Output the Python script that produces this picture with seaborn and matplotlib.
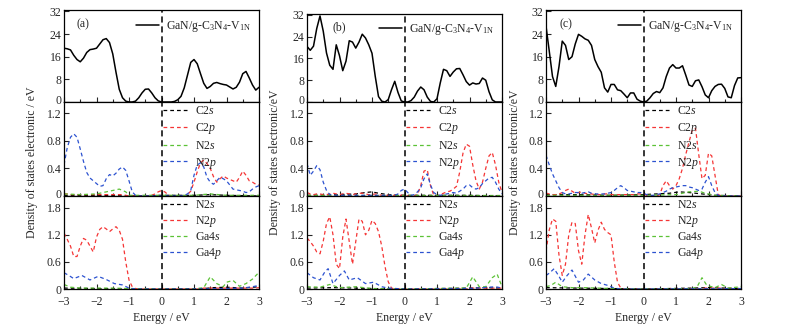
import numpy as np
import pandas as pd
import matplotlib
matplotlib.use("Agg")
import matplotlib.pyplot as plt
import matplotlib.transforms as mtrans
import seaborn as sns

sns.set_style('ticks')
plt.rcParams['font.family'] = ['Liberation Serif', 'DejaVu Serif']
plt.rcParams['mathtext.fontset'] = 'custom'
plt.rcParams['mathtext.rm'] = 'Liberation Serif'
plt.rcParams['mathtext.it'] = 'Liberation Serif:italic'
plt.rcParams['font.size'] = 8.5

# energy grid of the read-off values (eV)
energy = np.round(np.linspace(-3, 3, 61), 1)

# ---------------- (a) ----------------
tdos_a = [19, 18.8, 18.4, 16.5, 15, 14.2, 15.5, 17.5, 18.5, 18.7,
          19, 20.5, 22, 22.4, 21, 17, 10.5, 4.5, 1.5, 0.3,
          0, 0, 0.3, 1.5, 3.2, 4.5, 4.6, 3.2, 1.5, 0.4,
          0, 0, 0, 0, 0.2, 0.8, 2, 5, 9.5, 14,
          15, 13.5, 10, 6.6, 4.8, 5.5, 6.6, 6.9, 6.5, 6.2,
          6, 5.3, 4.6, 5.2, 7, 10, 10.8, 8.5, 6, 4.2, 5.2]
c2p_a = [0.03, 0.03, 0.02, 0.02, 0.02, 0.02, 0.02, 0.02, 0.02, 0.02,
         0.02, 0.02, 0.02, 0.02, 0.02, 0.02, 0.02, 0.02, 0.02, 0.01,
         0, 0, 0, 0, 0, 0, 0, 0.01, 0.03, 0.06,
         0.08, 0.06, 0.02, 0, 0, 0, 0, 0, 0.02, 0.07,
         0.2, 0.35, 0.48, 0.52, 0.47, 0.4, 0.28, 0.2, 0.25, 0.29,
         0.26, 0.24, 0.22, 0.2, 0.27, 0.36, 0.3, 0.22, 0.2, 0.17, 0.16]
n2p_a = [0.45, 0.7, 0.85, 0.9, 0.85, 0.68, 0.5, 0.34, 0.26, 0.22,
         0.18, 0.14, 0.15, 0.25, 0.31, 0.29, 0.33, 0.39, 0.42, 0.37,
         0.22, 0.06, 0.01, 0, 0, 0, 0, 0, 0, 0,
         0, 0, 0, 0, 0, 0, 0, 0.01, 0.03, 0.08,
         0.3, 0.45, 0.48, 0.42, 0.27, 0.2, 0.17, 0.22, 0.27, 0.25,
         0.22, 0.16, 0.1, 0.09, 0.08, 0.07, 0.05, 0.06, 0.1, 0.13, 0.15]
c2s_a_e = [-3, -2, -1, 0, 1, 1.5, 2, 3]
c2s_a = [0.01, 0.01, 0.0, 0.01, 0.01, 0.02, 0.01, 0.0]
n2s_a_e = [-3, -2.5, -2, -1.7, -1.5, -1.3, -1.1, -1.0, 0, 1, 1.5, 2, 3]
n2s_a = [0.03, 0.02, 0.03, 0.06, 0.08, 0.1, 0.06, 0.01, 0.01, 0.01, 0.03, 0.01, 0.01]

n2p_low_a = [1.24, 1.1, 0.95, 0.72, 0.72, 0.95, 1.12, 1.08, 0.95, 0.82,
             1.15, 1.32, 1.38, 1.33, 1.27, 1.33, 1.38, 1.3, 1.1, 0.6,
             0.2, 0.05, 0.01] + [0] * 20 + [0.02] * 17 + [0.03]
n2s_low_a_e = [-3, -2, -1, 0, 1.3, 1.6, 2.0, 2.5, 3]
n2s_low_a = [0.02, 0.01, 0, 0, 0.01, 0.03, 0.04, 0.02, 0.05]
ga4s_a_e = [-3, -2.8, -2.5, -2, -1.5, -1, 0, 1, 1.3, 1.5, 1.7, 1.9, 2.0, 2.2, 2.4, 2.6, 2.8, 3.0]
ga4s_a = [0.1, 0.04, 0.02, 0.02, 0.02, 0.01, 0, 0, 0.03, 0.27, 0.12, 0.05, 0.15, 0.19, 0.06, 0.12, 0.22, 0.37]
ga4p_a_e = [-3, -2.85, -2.7, -2.45, -2.2, -1.95, -1.7, -1.45, -1.2, -1.0, -0.8, 0, 1, 2, 2.5, 2.8, 3]
ga4p_a = [0.36, 0.3, 0.23, 0.3, 0.2, 0.28, 0.21, 0.12, 0.09, 0.02, 0, 0, 0, 0.01, 0.02, 0.05, 0.08]

# ---------------- (b) ----------------
tdos_b = [20.4, 19, 20.5, 27, 31.6, 26, 18, 13.5, 12, 21,
          17, 11.5, 15, 22.5, 22, 19.8, 22, 24.9, 23.5, 21,
          17.9, 9.4, 2, 0.3, 0, 0.9, 4.5, 7.6, 3.5, 0.4,
          0, 0, 0.5, 1.8, 4, 5.5, 4.5, 1.8, 0.2, 0,
          1.2, 7, 12, 11.5, 9.4, 11, 12.2, 12.3, 10, 7.5,
          6.2, 7, 6.6, 6.8, 8.8, 8, 3.8, 0.8, 0, 0, 0]
c2p_b = [0.05, 0.03, 0.02, 0.03, 0.03, 0.02, 0.02, 0.03, 0.04, 0.03,
         0.02, 0.03, 0.04, 0.03, 0.02, 0.03, 0.04, 0.04, 0.03, 0.02,
         0.02, 0.03, 0.02, 0.01, 0.01, 0.01, 0.01, 0.01, 0.01, 0.01,
         0.01, 0, 0, 0, 0.02, 0.15, 0.36, 0.38, 0.15, 0.01,
         0, 0.02, 0.04, 0.06, 0.07, 0.1, 0.14, 0.35, 0.62, 0.75,
         0.72, 0.45, 0.22, 0.1, 0.2, 0.4, 0.58, 0.63, 0.45, 0.2, 0.05]
n2p_b = [0.47, 0.3, 0.36, 0.44, 0.38, 0.2, 0.08, 0.02] + [0.01] * 20 + \
        [0.03, 0.08, 0.1, 0.05, 0.01, 0.02, 0.06, 0.12, 0.25, 0.32,
         0.16, 0.05, 0.02, 0.01, 0.02, 0.03, 0.04, 0.05, 0.04, 0.07,
         0.1, 0.15, 0.16, 0.12, 0.1, 0.12, 0.18, 0.22, 0.26, 0.27,
         0.2, 0.1, 0.03]
c2s_b_e = [-3, -2, -1.5, -1.2, -1.0, -0.8, -0.5, 0, 1, 2, 3]
c2s_b = [0.01, 0.02, 0.03, 0.05, 0.06, 0.04, 0.02, 0.01, 0.01, 0.01, 0.0]
n2s_b_e = [-3, -1.5, 0, 1.5, 3]
n2s_b = [0.01, 0.01, 0.01, 0.01, 0.01]

n2p_low_b = [1.13, 1.05, 0.95, 0.82, 0.78, 1.06, 1.45, 1.6, 1.2, 0.55,
             0.45, 1.15, 1.55, 1.05, 0.55, 1.05, 1.55, 1.5, 1.2, 1.3,
             1.52, 1.45, 1.27, 0.95, 0.5, 0.16, 0.02] + [0] * 23 + [0.02] * 11
n2s_low_b_e = [-3, -2.2, -1.5, -1, 0, 2, 2.5, 3]
n2s_low_b = [0.02, 0.03, 0.02, 0.01, 0, 0.02, 0.03, 0.02]
ga4s_b_e = [-3, -2.6, -2.3, -2.0, -1.5, -1.0, 0, 1.9, 2.1, 2.3, 2.5, 2.7, 2.85, 3.0]
ga4s_b = [0.05, 0.04, 0.1, 0.03, 0.05, 0.01, 0, 0.02, 0.27, 0.05, 0.05, 0.25, 0.33, 0.05]
ga4p_b_e = [-3, -2.8, -2.6, -2.45, -2.35, -2.2, -2.0, -1.85, -1.7, -1.45, -1.2, -0.95, -0.7, -0.5, 0, 2, 2.8, 3]
ga4p_b = [0.36, 0.25, 0.2, 0.38, 0.45, 0.12, 0.3, 0.4, 0.2, 0.25, 0.12, 0.15, 0.05, 0.02, 0, 0.01, 0.05, 0.02]

# ---------------- (c) ----------------
tdos_c = [26.8, 18, 9, 5.5, 12.5, 21.5, 20, 15, 16, 20.5,
          23.9, 23.2, 22.3, 21.8, 20, 15, 12.5, 10.5, 5, 3.5,
          6.2, 6.2, 4.3, 4, 2.8, 1.5, 3.2, 3.2, 1, 0.3,
          0, 0.3, 1.5, 3, 3.7, 3.3, 5, 9, 12, 13.2,
          12, 12, 12.8, 9.5, 6, 5.5, 7.5, 7.8, 5.4, 2.5,
          1.5, 4, 5.5, 6.2, 6.3, 4.8, 1.8, 1.5, 5.8, 8.5, 8.6]
c2p_c = [0.04, 0.03, 0.02, 0.02, 0.03, 0.05, 0.08, 0.1, 0.07, 0.04,
         0.05, 0.06, 0.04, 0.03, 0.03, 0.02, 0.02, 0.02, 0.03, 0.03,
         0.02, 0.02, 0.02, 0.02, 0.02, 0.02, 0.02, 0.02, 0.03, 0.03,
         0.03, 0.01, 0, 0, 0, 0.02, 0.15, 0.22, 0.15, 0.1,
         0.15, 0.25, 0.4, 0.6, 0.78, 0.95, 0.98, 0.6, 0.25, 0.3,
         0.62, 0.58, 0.3, 0.02] + [0] * 7
n2p_c = [0.59, 0.45, 0.32, 0.22, 0.12, 0.05, 0.03, 0.03, 0.04, 0.05,
         0.05, 0.04, 0.05, 0.06, 0.04, 0.03, 0.03, 0.03, 0.03, 0.04,
         0.05, 0.08, 0.12, 0.15, 0.12, 0.08, 0.07, 0.06, 0.05, 0.05,
         0.04, 0.02, 0.01, 0.01, 0.02, 0.03, 0.05, 0.07, 0.1, 0.12,
         0.13, 0.14, 0.15, 0.15, 0.13, 0.12, 0.1, 0.08, 0.1, 0.2,
         0.28, 0.15, 0.05, 0.01] + [0] * 7
c2s_c_e = [-3, -2, -1, 0, 0.8, 1.1, 1.4, 1.8, 2.2, 3]
c2s_c = [0.02, 0.02, 0.01, 0.02, 0.04, 0.06, 0.05, 0.03, 0.01, 0]
n2s_c_e = [-3, -1, 0, 1.0, 1.4, 1.7, 1.9, 2.2, 3]
n2s_c = [0.01, 0.01, 0.01, 0.02, 0.06, 0.07, 0.04, 0.01, 0.0]

n2p_low_c = [0.84, 1.31, 1.55, 1.5, 0.75, 0.3, 0.55, 1.2, 1.48, 1.45,
             0.85, 0.55, 1.2, 1.65, 1.35, 1.02, 1.3, 1.48, 1.32, 1.25,
             1.2, 0.6, 0.15, 0.02] + [0] * 24 + [0.02] * 7 + [0] * 6
n2s_low_c_e = [-3, -2, -1, 0, 1.5, 2, 2.5, 3]
n2s_low_c = [0.03, 0.02, 0.01, 0, 0.02, 0.03, 0.02, 0.01]
ga4s_c_e = [-3, -2.85, -2.7, -2.5, -2.2, -1.8, -1.4, -1, 0, 1.5, 1.65, 1.8, 1.95, 2.2, 2.4, 2.6, 3]
ga4s_c = [0.05, 0.08, 0.15, 0.05, 0.03, 0.03, 0.02, 0.01, 0, 0.01, 0.05, 0.25, 0.08, 0.03, 0.1, 0.02, 0.05]
ga4p_c_e = [-3, -2.9, -2.75, -2.6, -2.5, -2.35, -2.2, -2.0, -1.85, -1.7, -1.5, -1.3, -1.1, -0.9, -0.7, 0, 3]
ga4p_c = [0.3, 0.35, 0.45, 0.28, 0.15, 0.3, 0.42, 0.15, 0.2, 0.33, 0.2, 0.12, 0.08, 0.02, 0.0, 0, 0.01]

panels = [
    dict(tag='(a)', tdos=tdos_a,
         mid=[(c2s_a_e, c2s_a), (energy, c2p_a), (n2s_a_e, n2s_a), (energy, n2p_a)],
         low=[(n2s_low_a_e, n2s_low_a), (energy, n2p_low_a), (ga4s_a_e, ga4s_a), (ga4p_a_e, ga4p_a)],
         ylab='Density of states electronic / eV'),
    dict(tag='(b)', tdos=tdos_b,
         mid=[(c2s_b_e, c2s_b), (energy, c2p_b), (n2s_b_e, n2s_b), (energy, n2p_b)],
         low=[(n2s_low_b_e, n2s_low_b), (energy, n2p_low_b), (ga4s_b_e, ga4s_b), (ga4p_b_e, ga4p_b)],
         ylab='Density of states electronic/eV'),
    dict(tag='(c)', tdos=tdos_c,
         mid=[(c2s_c_e, c2s_c), (energy, c2p_c), (n2s_c_e, n2s_c), (energy, n2p_c)],
         low=[(n2s_low_c_e, n2s_low_c), (energy, n2p_low_c), (ga4s_c_e, ga4s_c), (ga4p_c_e, ga4p_c)],
         ylab='Density of states electronic/eV'),
]
mid_labels = ['C2$s$', 'C2$p$', 'N2$s$', 'N2$p$']
low_labels = ['N2$s$', 'N2$p$', 'Ga4$s$', 'Ga4$p$']
colors = ['#000000', '#f53535', '#5cc236', '#2c52d0']
legend_label = r'GaN/g-C$_3$N$_4$-V$_\mathrm{1N}$'

W, H = 785, 330
fig = plt.figure(figsize=(W / 100, H / 100), dpi=100)

# pixel layout: columns (left, right), rows (top, bottom)
cols = [(64, 259), (307, 502), (546, 741)]
tops = [10, 13.5, 10]
y_mid, y_low, y_bot = 102, 196, 289
ylab_x = [32, 275, 515]
tag_x = [0.097, 0.164, 0.10]

dash = (0, (3, 2.4))
lift = mtrans.ScaledTranslation(0, 2.5 / 100, fig.dpi_scale_trans)


def px_axes(x0, x1, y0, y1):
    return fig.add_axes([x0 / W, 1 - y1 / H, (x1 - x0) / W, (y1 - y0) / H])


def style_ax(ax, yticks, ylim, show_x, lift_zero):
    ax.set_xlim(-3, 3)
    ax.set_ylim(*ylim)
    ax.set_yticks(yticks)
    ax.set_yticklabels([('%g' % t) for t in yticks])
    ax.set_xticks(range(-3, 4))
    ax.set_xticks(np.arange(-3, 3.01, 0.5), minor=True)
    if show_x:
        ax.set_xticklabels(['\u22123', '\u22122', '\u22121', '0', '1', '2', '3'])
    else:
        ax.set_xticklabels([])
    ax.tick_params(direction='in', length=3.5, width=0.8, labelsize=8.5, pad=2)
    ax.tick_params(axis='x', pad=5)
    ax.tick_params(which='minor', direction='in', length=2, width=0.8)
    if lift_zero:
        lab0 = ax.get_yticklabels()[0]
        lab0.set_transform(lab0.get_transform() + lift)
    for s in ax.spines.values():
        s.set_linewidth(0.9)
        s.set_color('black')
    ax.axvline(0, color='black', lw=1.1, ls=(0, (4, 2.5)), zorder=5)
    ax.set_xlabel('')
    ax.set_ylabel('')


for i, p in enumerate(panels):
    x0, x1 = cols[i]
    ax_t = px_axes(x0, x1, tops[i], y_mid)
    ax_m = px_axes(x0, x1, y_mid, y_low)
    ax_b = px_axes(x0, x1, y_low, y_bot)

    sns.lineplot(x=energy, y=p['tdos'], color='black', lw=1.1, ax=ax_t, label=legend_label)
    style_ax(ax_t, [0, 8, 16, 24, 32], (0, 32.5), False, True)
    ax_t.legend(loc='upper left', bbox_to_anchor=(0.367, 0.9), frameon=False,
                borderpad=0, borderaxespad=0, handlelength=2.0, handletextpad=0.6,
                fontsize=8.5)
    ax_t.text(tag_x[i], 0.84, p['tag'], transform=ax_t.transAxes, ha='center', va='center',
              fontsize=8.5)

    for (ex, vals), lab, c in zip(p['mid'], mid_labels, colors):
        sns.lineplot(x=ex, y=vals, color=c, lw=0.9, linestyle=dash, ax=ax_m, label=lab)
    style_ax(ax_m, [0, 0.4, 0.8, 1.2], (0, 1.36), False, True)
    ax_m.legend(loc='upper left', bbox_to_anchor=(0.508, 0.965), frameon=False,
                borderpad=0, borderaxespad=0, handlelength=2.2, handletextpad=0.5,
                labelspacing=0.32, fontsize=8.5)

    for (ex, vals), lab, c in zip(p['low'], low_labels, colors):
        sns.lineplot(x=ex, y=vals, color=c, lw=0.9, linestyle=dash, ax=ax_b, label=lab)
    style_ax(ax_b, [0, 0.6, 1.2, 1.8], (0, 2.06), True, False)
    ax_b.legend(loc='upper left', bbox_to_anchor=(0.508, 0.965), frameon=False,
                borderpad=0, borderaxespad=0, handlelength=2.2, handletextpad=0.5,
                labelspacing=0.22, fontsize=8.5)

    fig.text(ylab_x[i] / W, 1 - 162 / H, p['ylab'], rotation=90, ha='center', va='center',
             fontsize=8.5)
    fig.text((x0 + x1) / 2 / W, 1 - 318 / H, 'Energy / eV', ha='center', va='center',
             fontsize=8.5)

fig.savefig('out.png', dpi=100)
